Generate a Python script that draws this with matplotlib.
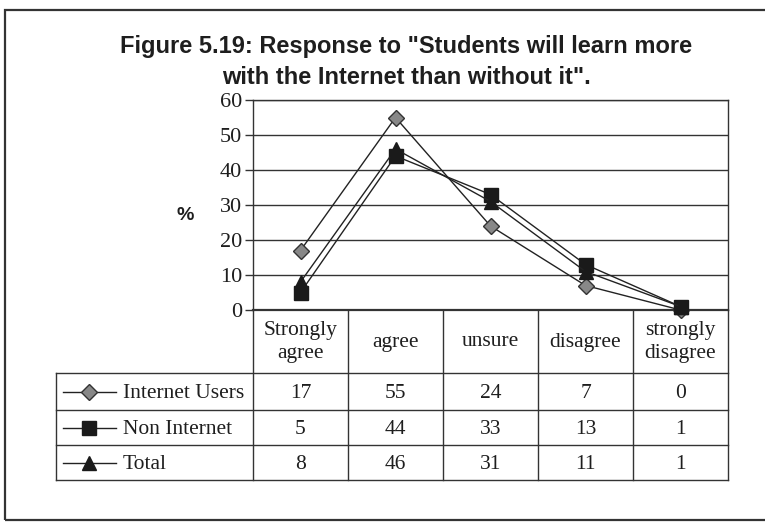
import matplotlib.pyplot as plt
import matplotlib.patches as patches
import numpy as np

# data
categories = ['Strongly\nagree', 'agree', 'unsure', 'disagree', 'strongly\ndisagree']
series_names = ['Internet Users', 'Non Internet', 'Total']
internet_users = [17, 55, 24, 7, 0]
non_internet = [5, 44, 33, 13, 1]
total = [8, 46, 31, 11, 1]
yticks = [0, 10, 20, 30, 40, 50, 60]

W, H = 765, 525
serif = 'Liberation Serif'
sans = 'Liberation Sans'
ink = '#1e1e1e'

fig = plt.figure(figsize=(W/100, H/100), dpi=100)

def fbox(x0, y0, x1, y1):
    # pixel box (top-left origin) -> figure fraction rect
    return [x0/W, 1 - y1/H, (x1 - x0)/W, (y1 - y0)/H]

# outer frame
fig.patches.append(patches.Rectangle((5/W, 1 - 520/H), 780/W, 510/H, transform=fig.transFigure,
                                     fill=False, edgecolor='#333333', linewidth=1.6))

fig.text(406/W, 1 - 47/H, 'Figure 5.19: Response to "Students will learn more',
         ha='center', va='center', fontsize=17, fontweight='bold', family=sans, color=ink)
fig.text(406/W, 1 - 77/H, 'with the Internet than without it".',
         ha='center', va='center', fontsize=17, fontweight='bold', family=sans, color=ink)

# line chart
ax = fig.add_axes(fbox(253, 100, 728, 310))
x = np.arange(len(categories))
styles = [
    dict(marker='D', markersize=8, markerfacecolor='#888888', markeredgecolor='#333333'),
    dict(marker='s', markersize=10, markerfacecolor='#1a1a1a', markeredgecolor='#1a1a1a'),
    dict(marker='^', markersize=10, markerfacecolor='#1a1a1a', markeredgecolor='#1a1a1a'),
]
all_vals = [internet_users, non_internet, total]
for vals, st in zip(all_vals, styles):
    ax.plot(x, vals, color='#222222', linewidth=1.0, zorder=3, clip_on=False, **st)

ax.set_xlim(-0.5, len(categories) - 0.5)
ax.set_ylim(0, 60)
ax.set_yticks(yticks)
ax.set_yticklabels([str(v) for v in yticks], family=serif, fontsize=16, color=ink)
ax.set_xticks([])
ax.grid(axis='y', color='#333333', linewidth=1.0)
ax.tick_params(axis='y', length=6, width=1, color='#333333', pad=2)
for s in ax.spines.values():
    s.set_color('#333333')
    s.set_linewidth(1.0)
ax.spines['bottom'].set_linewidth(1.6)
fig.text(185/W, 1 - 216/H, '%', ha='center', va='center',
         fontsize=14, fontweight='bold', family=sans, color=ink)

# data table below the plot
tab = fig.add_axes(fbox(56, 310, 728, 480))
left = -0.5 - (253 - 56)/95
tab.set_xlim(left, len(categories) - 0.5)
tab.set_ylim(170, 0)
tab.axis('off')
row_edges = [0, 63, 100, 135, 170]
lc = '#333333'
# vertical column lines
for i in range(len(categories) + 1):
    tab.plot([i - 0.5, i - 0.5], [0, 170], color=lc, linewidth=1.0, clip_on=False)
tab.plot([left, left], [63, 170], color=lc, linewidth=1.0, clip_on=False)
for yy in row_edges[1:]:
    tab.plot([left, len(categories) - 0.5], [yy, yy], color=lc, linewidth=1.0, clip_on=False)

for i, c in enumerate(categories):
    tab.text(i, 32, c, ha='center', va='center', family=serif, fontsize=15.5,
             color=ink, linespacing=1.3)

for r, (name, vals, st) in enumerate(zip(series_names, all_vals, styles)):
    yc = (row_edges[r + 1] + row_edges[r + 2]) / 2
    for i, v in enumerate(vals):
        tab.text(i, yc + 2, str(v), ha='center', va='center', family=serif, fontsize=15.5, color=ink)
    tab.plot([left + 7/95, left + 60/95], [yc, yc], color='#222222', linewidth=1.0)
    tab.plot([left + 33/95], [yc], color='#222222', linestyle='none', **st)
    tab.text(left + 67/95, yc + 2, name, ha='left', va='center', family=serif, fontsize=15.5, color=ink)

fig.savefig('out.png', dpi=100)
